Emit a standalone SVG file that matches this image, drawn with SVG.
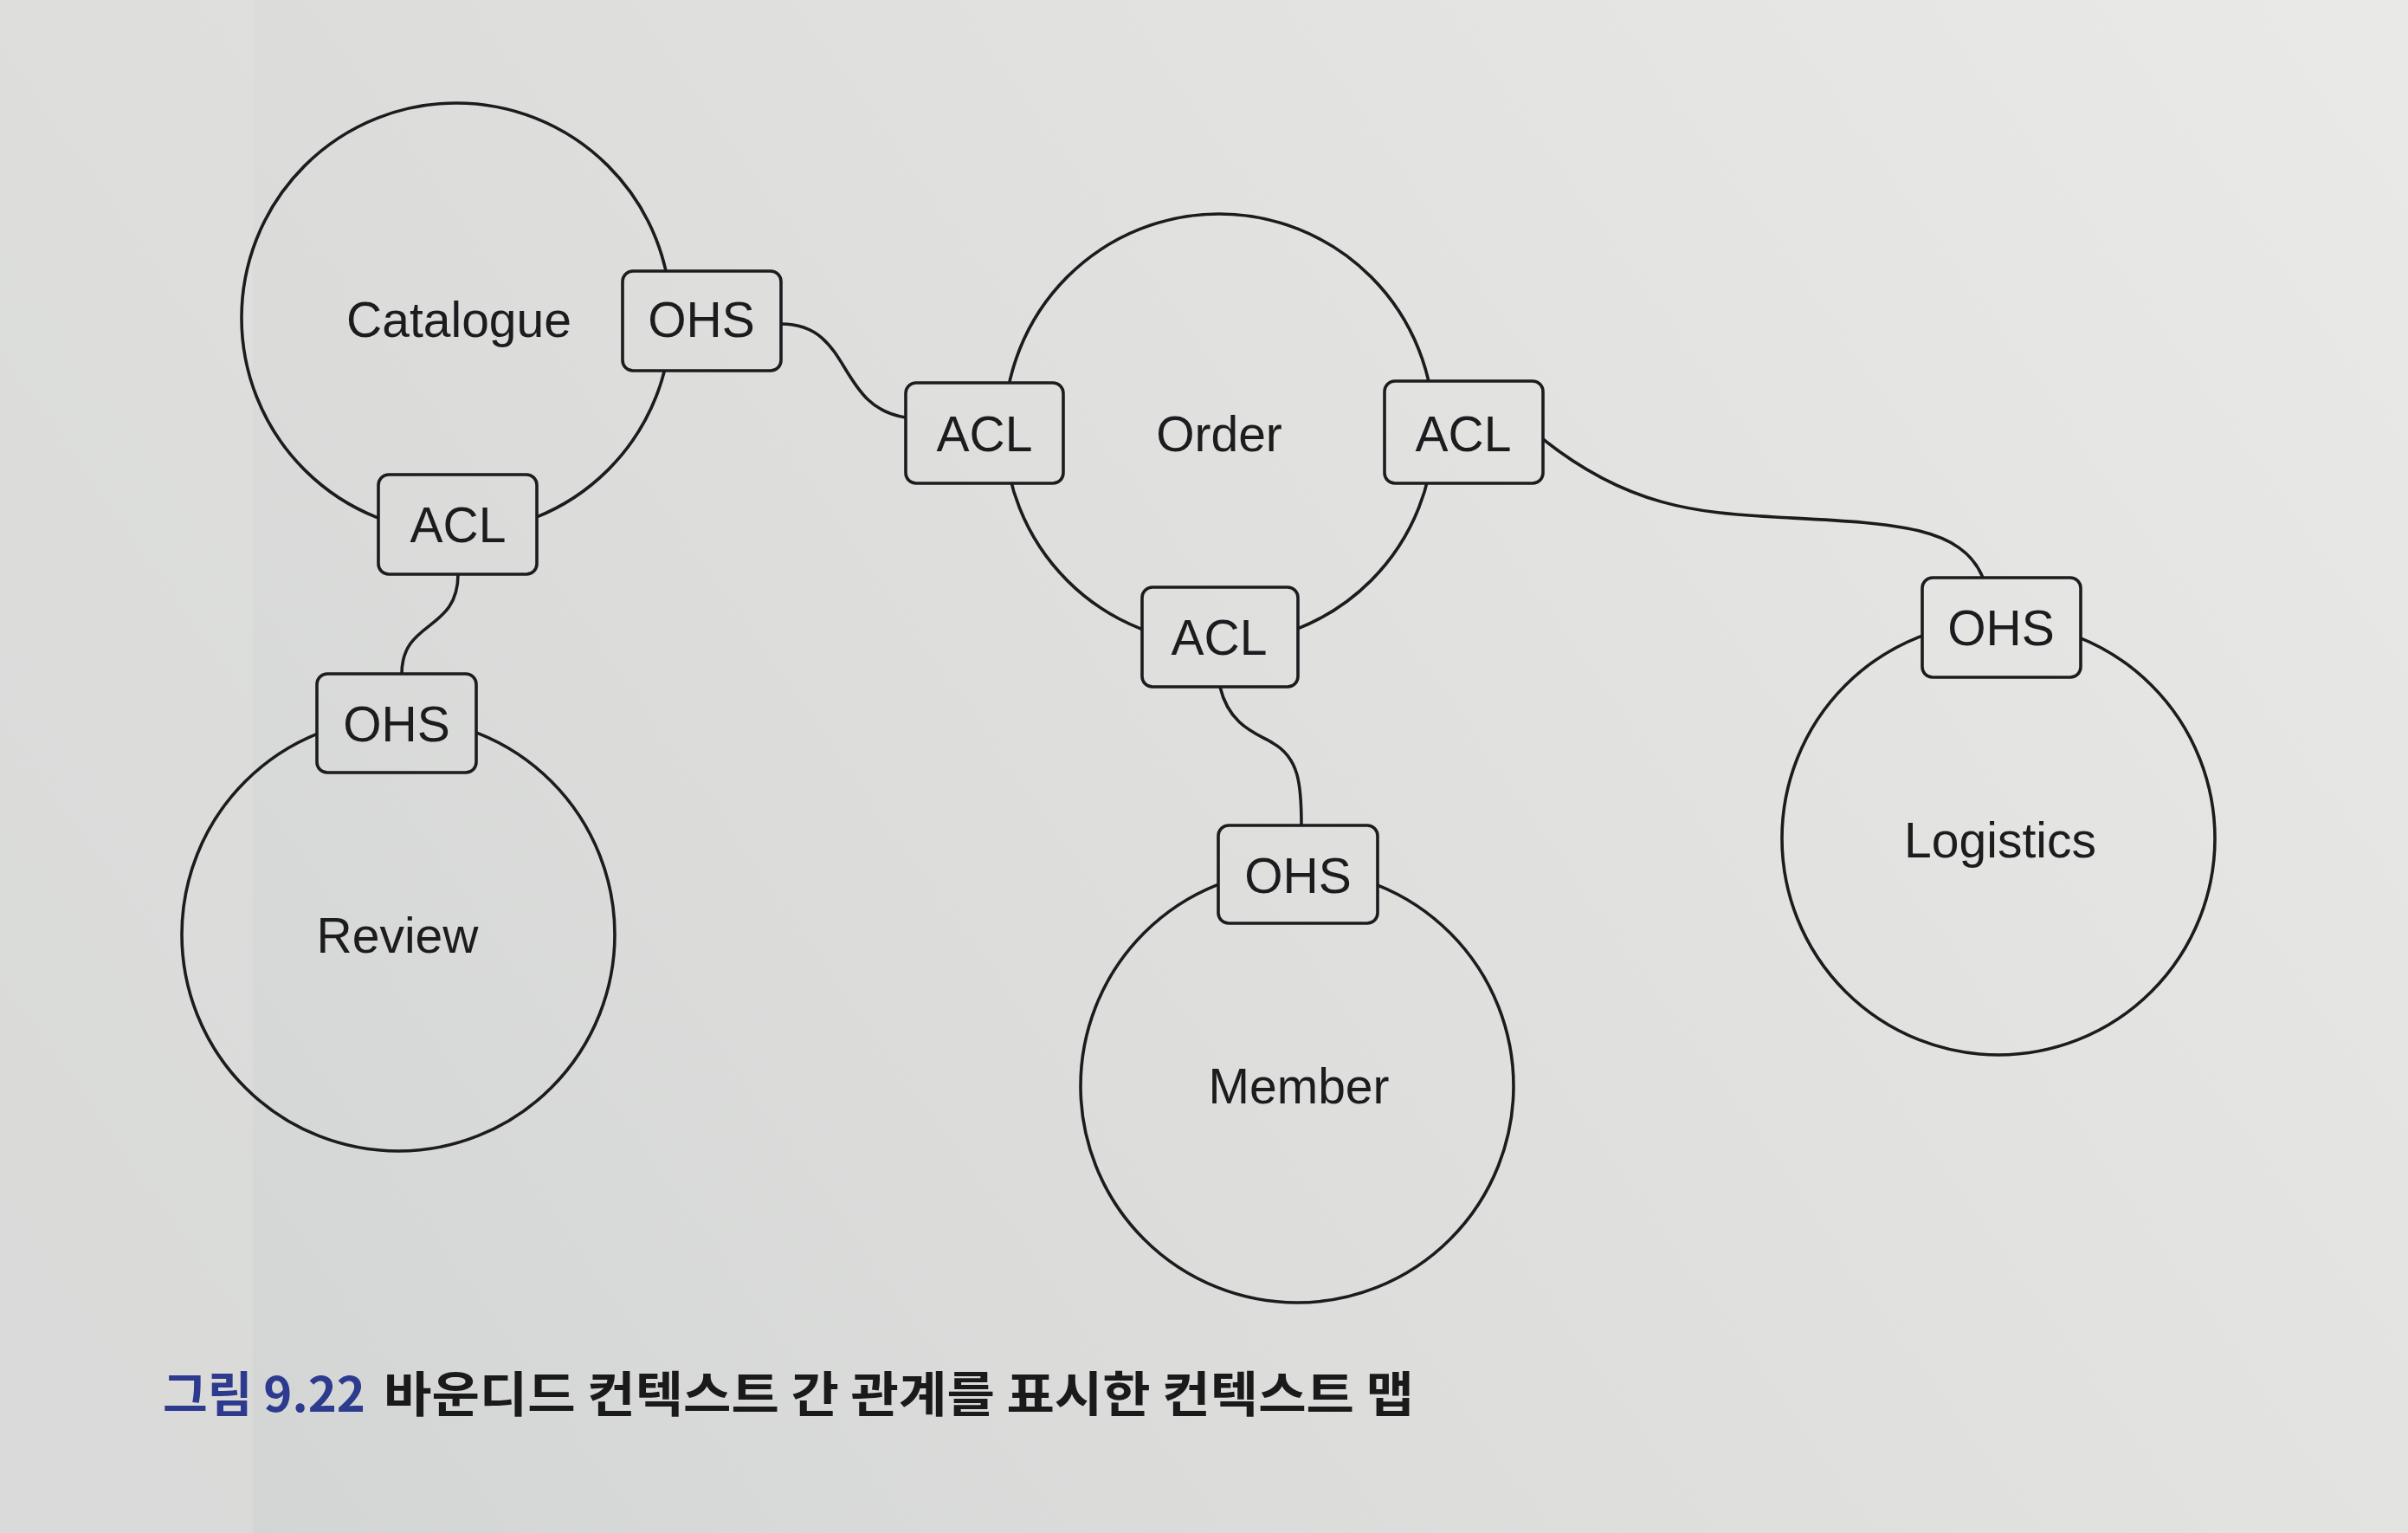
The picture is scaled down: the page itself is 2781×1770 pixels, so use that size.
<svg xmlns="http://www.w3.org/2000/svg" width="2781" height="1770" viewBox="0 0 2781 1770">
<defs>
<linearGradient id="bg" gradientUnits="userSpaceOnUse" x1="2700" y1="0" x2="200" y2="1770">
<stop offset="0" stop-color="#e9eae8"/>
<stop offset="0.5" stop-color="#dfe0de"/>
<stop offset="1" stop-color="#d3d5d4"/>
</linearGradient>
<style>
.ctx{fill:none;stroke:#1c1c1e;stroke-width:3.6}
.box{fill:url(#bg);stroke:#1c1c1e;stroke-width:3.6}
.lbl{font-family:"Liberation Sans",Arial,sans-serif;font-size:57px;fill:#1c1c1e;text-anchor:middle}
.conn{fill:none;stroke:#1c1c1e;stroke-width:3.6}
.cap{font-family:"Noto Sans CJK KR","Noto Sans",sans-serif;font-size:56px;font-weight:bold}
</style>
</defs>
<rect x="0" y="0" width="2781" height="1770" fill="url(#bg)"/>
<rect x="0" y="0" width="292" height="1770" fill="#e4e5e3" opacity="0.35"/>

<g id="connectors">
<path class="conn" d="M902,374 C985,374 965,470 1046,482"/>
<path class="conn" d="M529,663 C529,730 464,715 464,778"/>
<path class="conn" d="M1782,507 C1880,585 1960,592 2050,597 C2180,604 2265,605 2290,667"/>
<path class="conn" d="M1409,793 C1420,840 1455,848 1470,858 C1500,875 1503,905 1503,953"/>
</g>

<g id="catalogue">
<circle class="ctx" cx="527" cy="367" r="248"/>
<text class="lbl" x="530" y="389">Catalogue</text>
</g>
<g id="catalogue-ohs">
<rect class="box" x="719" y="313" width="183" height="115" rx="12"/>
<text class="lbl" x="810" y="389">OHS</text>
</g>
<g id="catalogue-acl">
<rect class="box" x="437" y="548" width="183" height="115" rx="12"/>
<text class="lbl" x="529" y="626">ACL</text>
</g>

<g id="review">
<circle class="ctx" cx="460" cy="1079" r="250"/>
<text class="lbl" x="459" y="1100">Review</text>
</g>
<g id="review-ohs">
<rect class="box" x="366" y="778" width="184" height="114" rx="12"/>
<text class="lbl" x="458" y="856">OHS</text>
</g>

<g id="order">
<circle class="ctx" cx="1408" cy="495" r="248"/>
<text class="lbl" x="1408" y="521">Order</text>
</g>
<g id="order-acl-left">
<rect class="box" x="1046" y="442" width="182" height="116" rx="12"/>
<text class="lbl" x="1137" y="521">ACL</text>
</g>
<g id="order-acl-right">
<rect class="box" x="1599" y="440" width="183" height="118" rx="12"/>
<text class="lbl" x="1690" y="521">ACL</text>
</g>
<g id="order-acl-bottom">
<rect class="box" x="1319" y="678" width="180" height="115" rx="12"/>
<text class="lbl" x="1408" y="756">ACL</text>
</g>

<g id="member">
<circle class="ctx" cx="1498" cy="1254" r="250"/>
<text class="lbl" x="1500" y="1274">Member</text>
</g>
<g id="member-ohs">
<rect class="box" x="1407" y="953" width="184" height="113" rx="12"/>
<text class="lbl" x="1499" y="1031">OHS</text>
</g>

<g id="logistics">
<circle class="ctx" cx="2308" cy="968" r="250"/>
<text class="lbl" x="2310" y="990">Logistics</text>
</g>
<g id="logistics-ohs">
<rect class="box" x="2220" y="667" width="183" height="115" rx="12"/>
<text class="lbl" x="2311" y="745">OHS</text>
</g>

<g id="caption">
<text class="cap" x="188" y="1630" fill="#2d3a8e" textLength="234" lengthAdjust="spacingAndGlyphs">그림 9.22</text>
<text class="cap" x="443" y="1630" fill="#1a1a1a" textLength="1190" lengthAdjust="spacingAndGlyphs">바운디드 컨텍스트 간 관계를 표시한 컨텍스트 맵</text>
</g>
</svg>
